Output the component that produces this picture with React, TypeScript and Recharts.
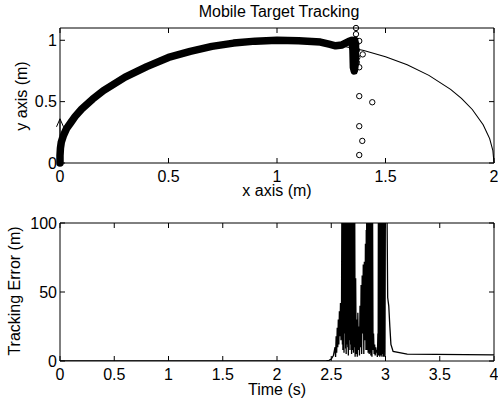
import React from "react"
import { ComposedChart, LineChart, Line, Scatter, XAxis, YAxis } from "recharts"

// top plot: target path (semicircle), robot trail and scattered estimates
const targetX = [0, 0.02, 0.05, 0.1, 0.2, 0.3, 0.4, 0.5, 0.6, 0.7, 0.8, 0.9, 1.0, 1.1, 1.2, 1.3, 1.4, 1.5, 1.6, 1.7, 1.8, 1.85, 1.9, 1.95, 1.98, 1.995, 2.0]
const targetY = [0, 0.199, 0.312, 0.436, 0.6, 0.714, 0.8, 0.866, 0.917, 0.954, 0.98, 0.995, 1.0, 0.995, 0.98, 0.954, 0.917, 0.866, 0.8, 0.714, 0.6, 0.527, 0.436, 0.312, 0.199, 0.1, 0]

const trailX = [0, 0, 0.002, 0.006, 0.015, 0.03, 0.05, 0.07, 0.1, 0.15, 0.2, 0.3, 0.4, 0.5, 0.6, 0.7, 0.8, 0.9, 1.0, 1.1, 1.2, 1.24, 1.27, 1.3, 1.33, 1.345, 1.35, 1.352, 1.356, 1.36, 1.362, 1.358]
const trailY = [0, 0.06, 0.12, 0.17, 0.22, 0.28, 0.33, 0.38, 0.44, 0.52, 0.59, 0.7, 0.785, 0.86, 0.91, 0.95, 0.977, 0.993, 1.0, 0.997, 0.985, 0.968, 0.955, 0.962, 0.99, 1.0, 0.92, 0.78, 0.75, 0.8, 0.95, 1.0]

const estX = [1.364, 1.364, 1.379, 1.395, 1.379, 1.379, 1.439, 1.379, 1.393, 1.379, 1.366, 1.368, 1.37, 1.368]
const estY = [1.1, 1.05, 0.994, 0.885, 0.78, 0.545, 0.495, 0.3, 0.18, 0.065, 0.97, 0.92, 0.86, 0.82]

const startArrow = [{ x: 0, y: 0.36 }]

// bottom plot: tracking error over time
const timeS = [0, 2.45, 2.48, 2.5, 2.52, 2.535, 2.54, 2.545, 2.55, 2.555, 2.56, 2.565, 2.57, 2.575, 2.58, 2.585, 2.59, 2.595,
  2.6, 2.6025, 2.605, 2.6075, 2.61, 2.6125, 2.615, 2.6175, 2.62, 2.625, 2.63, 2.6325, 2.635, 2.6375, 2.64, 2.645,
  2.65, 2.6525, 2.655, 2.6575, 2.66, 2.665, 2.67, 2.6725, 2.675, 2.68, 2.685, 2.6875, 2.69, 2.695,
  2.7, 2.705, 2.71, 2.7125, 2.715, 2.72, 2.725, 2.73, 2.735, 2.74, 2.745, 2.75, 2.755, 2.76, 2.765, 2.77, 2.775, 2.78, 2.785,
  2.79, 2.795, 2.8, 2.805, 2.81, 2.815, 2.82, 2.8225, 2.825, 2.8275, 2.83, 2.8325, 2.835, 2.8375, 2.84, 2.8425, 2.845, 2.8475, 2.85, 2.8525,
  2.855, 2.8575, 2.86, 2.8625, 2.865, 2.8675, 2.87, 2.8725, 2.875, 2.88, 2.885, 2.89, 2.895, 2.9, 2.905, 2.91, 2.915, 2.92, 2.925,
  2.93, 2.9325, 2.935, 2.9375, 2.94, 2.9425, 2.945, 2.9475, 2.95, 2.9525, 2.955, 2.9575, 2.96, 2.9625, 2.965, 2.9675, 2.97, 2.9725, 2.975, 2.9775,
  2.98, 2.9825, 2.985, 2.9875, 2.99, 2.995, 3.0, 3.01, 3.02, 3.03, 3.04, 3.05, 3.07, 3.2, 4.0]
const errorM = [0, 0, 0.5, 1.5, 4, 10, 3, 18, 6, 24, 10, 30, 12, 36, 18, 42, 15, 45,
  160, 12, 170, 8, 180, 14, 165, 6, 175, 20, 160, 9, 150, 5, 170, 12,
  150, 10, 170, 4, 160, 15, 170, 8, 150, 12, 160, 5, 150, 8,
  160, 6, 140, 10, 150, 3, 60, 5, 30, 3, 35, 8, 25, 4, 40, 10, 55, 5, 62, 20, 70,
  5, 72, 15, 85, 8, 95, 20, 160, 8, 170, 14, 175, 6, 180, 10, 160, 5, 170, 12, 150,
  6, 160, 4, 165, 10, 140, 3, 130, 8, 20, 5, 12, 4, 10, 6, 8, 3, 20, 5,
  150, 4, 160, 10, 170, 3, 165, 8, 160, 4, 170, 6, 150, 3, 160, 10, 165, 5, 150, 3,
  160, 8, 150, 3, 145, 150, 46, 40, 25, 12, 7, 5, 4.5, 4.3, 4.2]

const xTicksTop = [0, 0.5, 1, 1.5, 2]
const yTicksTop = [0, 0.5, 1]
const xTicksBottom = [0, 0.5, 1, 1.5, 2, 2.5, 3, 3.5, 4]
const yTicksBottom = [0, 50, 100]

const zip = (xs: number[], ys: number[]) => xs.map((x, i) => ({ x, y: ys[i] }))
const targetData = zip(targetX, targetY)
const trailData = zip(trailX, trailY)
const estData = zip(estX, estY)
const errData = timeS.map((t, i) => ({ t, e: errorM[i] }))

const font = "'Liberation Sans', Arial, Helvetica, sans-serif"
const FS = 16
const axisLine = { stroke: "#000", strokeWidth: 1 }
const TL = 5 // inward tick length

// tick label outside, tick mark drawn inward (MATLAB style)
const BottomTick = (p: any) => (
  <g>
    <path d={`M${p.x},${p.y}V${p.y - TL}`} stroke="#000" />
    <text x={p.x} y={p.y + 18.5} textAnchor="middle" fontSize={FS} fontFamily={font} fill="#000">{p.payload.value}</text>
  </g>
)
const LeftTick = (p: any) => (
  <g>
    <path d={`M${p.x},${p.y}H${p.x + TL}`} stroke="#000" />
    <text x={p.x - 3} y={p.y + 5.5} textAnchor="end" fontSize={FS} fontFamily={font} fill="#000">{p.payload.value}</text>
  </g>
)
const TopTick = (p: any) => <path d={`M${p.x},${p.y}V${p.y + TL}`} stroke="#000" />
const RightTick = (p: any) => <path d={`M${p.x},${p.y}H${p.x - TL}`} stroke="#000" />

const NoShape = () => <g />
const Ring = (p: any) => <circle cx={p.cx} cy={p.cy} r={2.7} fill="none" stroke="#000" strokeWidth={1} />
const Arrow = (p: any) => (
  <path
    d={`M${p.cx},${p.cy + 17} L${p.cx},${p.cy} M${p.cx - 3.5},${p.cy + 8} L${p.cx},${p.cy} L${p.cx + 3.5},${p.cy + 8}`}
    stroke="#000"
    strokeWidth={1}
    fill="none"
  />
)

export default function App() {
  return (
    <div style={{ position: "relative", width: 498, height: 403, background: "#fff" }}>
      <style>{"body{margin:0;background:#fff}"}</style>

      <div style={{ position: "absolute", left: 0, top: 0 }}>
        <ComposedChart width={498} height={200} margin={{ top: 27, right: 3, left: 0, bottom: 0 }}>
          <XAxis dataKey="x" type="number" domain={[0, 2]} ticks={xTicksTop} interval={0}
            height={37} tickSize={0} tickMargin={0} tick={BottomTick} tickLine={false} axisLine={axisLine} />
          <XAxis xAxisId="top" dataKey="x" orientation="top" type="number" domain={[0, 2]} ticks={xTicksTop} interval={0}
            height={1} tickSize={0} tickMargin={0} tick={TopTick} tickLine={false} axisLine={axisLine} />
          <YAxis dataKey="y" type="number" domain={[0, 1.1]} ticks={yTicksTop} interval={0}
            width={60} tickSize={0} tickMargin={0} tick={LeftTick} tickLine={false} axisLine={axisLine} />
          <YAxis yAxisId="right" dataKey="y" orientation="right" type="number" domain={[0, 1.1]} ticks={yTicksTop} interval={0}
            width={1} tickSize={0} tickMargin={0} tick={RightTick} tickLine={false} axisLine={axisLine} />
          {/* invisible series so the mirrored box axes get a scale */}
          <Scatter xAxisId="top" yAxisId="right" data={targetData} shape={NoShape} isAnimationActive={false} />
          <Scatter data={targetData} shape={NoShape} line={{ stroke: "#000", strokeWidth: 1.1 }} isAnimationActive={false} />
          <Scatter data={trailData} shape={NoShape}
            line={{ stroke: "#000", strokeWidth: 7.5, strokeLinejoin: "round", strokeLinecap: "round" }} isAnimationActive={false} />
          <Scatter data={estData} shape={Ring} isAnimationActive={false} />
          <Scatter data={startArrow} shape={Arrow} isAnimationActive={false} />
        </ComposedChart>
      </div>

      <div style={{ position: "absolute", left: 0, top: 200 }}>
        <LineChart width={498} height={203} data={errData} margin={{ top: 22, right: 3, left: 0, bottom: 0 }}>
          <XAxis dataKey="t" type="number" domain={[0, 4]} ticks={xTicksBottom} interval={0} allowDataOverflow
            height={42} tickSize={0} tickMargin={0} tick={BottomTick} tickLine={false} axisLine={axisLine} />
          <XAxis xAxisId="top" dataKey="t" orientation="top" type="number" domain={[0, 4]} ticks={xTicksBottom} interval={0} allowDataOverflow
            height={1} tickSize={0} tickMargin={0} tick={TopTick} tickLine={false} axisLine={axisLine} />
          <YAxis type="number" domain={[0, 100]} ticks={yTicksBottom} interval={0} allowDataOverflow
            width={60} tickSize={0} tickMargin={0} tick={LeftTick} tickLine={false} axisLine={axisLine} />
          <YAxis yAxisId="right" orientation="right" type="number" domain={[0, 100]} ticks={yTicksBottom} interval={0} allowDataOverflow
            width={1} tickSize={0} tickMargin={0} tick={RightTick} tickLine={false} axisLine={axisLine} />
          <Line xAxisId="top" yAxisId="right" dataKey="e" stroke="none" dot={false} isAnimationActive={false} />
          <Line dataKey="e" type="linear" stroke="#000" strokeWidth={1.3} dot={false} isAnimationActive={false} />
        </LineChart>
      </div>

      <svg width={498} height={403} style={{ position: "absolute", left: 0, top: 0, pointerEvents: "none" }}
        fontFamily={font} fontSize={FS} fill="#000">
        <text x={279} y={16.5} textAnchor="middle">Mobile Target Tracking</text>
        <text x={277} y={196} textAnchor="middle">x axis (m)</text>
        <text x={277} y={394.5} textAnchor="middle">Time (s)</text>
        <text transform="translate(27,96) rotate(-90)" textAnchor="middle">y axis (m)</text>
        <text transform="translate(19.5,291) rotate(-90)" textAnchor="middle">Tracking Error (m)</text>
      </svg>
    </div>
  )
}
